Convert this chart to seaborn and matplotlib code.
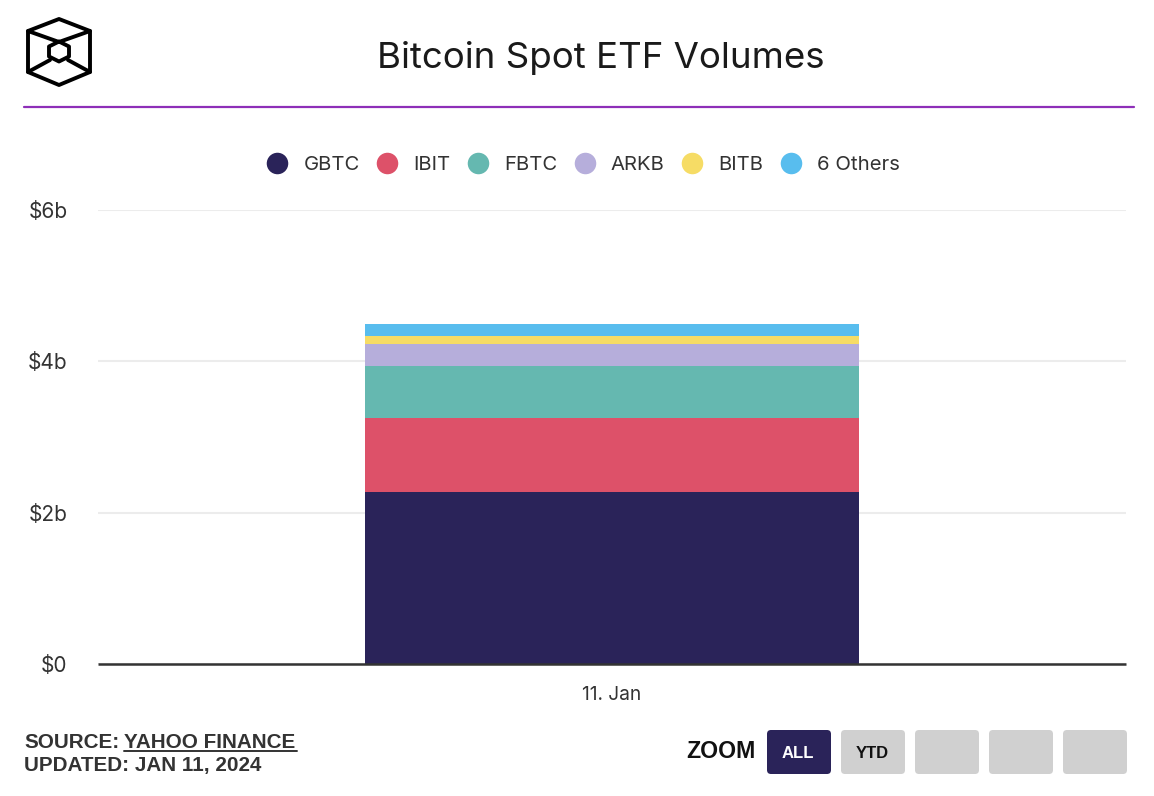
import pandas as pd
import seaborn as sns
import matplotlib.pyplot as plt
from matplotlib.lines import Line2D
from matplotlib.patches import FancyBboxPatch, Polygon

dates = ["11. Jan"]
tickers = ["GBTC", "IBIT", "FBTC", "ARKB", "BITB", "6 Others"]
volumes = [2.27, 0.98, 0.69, 0.29, 0.105, 0.155]
colors = ["#2a2359", "#dd5169", "#65b8b0", "#b6aedb", "#f6dc65", "#58bdee"]
y_ticks = [0, 2, 4, 6]
y_labels = ["$0", "$2b", "$4b", "$6b"]
zoom_labels = ["ALL", "YTD", "", "", ""]

W, H = 1154, 796


def draw_logo(ov):
    outer = [(59, 19), (90, 31), (90, 72), (59, 85), (28, 72), (28, 31)]
    inner = [(59, 41.5), (69, 46.5), (69, 56.5), (59, 61.5), (49, 56.5), (49, 46.5)]
    ov.add_patch(Polygon(outer, closed=True, fill=False, ec="black", lw=2.8, joinstyle="round"))
    ov.add_patch(Polygon(inner, closed=True, fill=False, ec="black", lw=2.8, joinstyle="round"))
    for a, b in [((28, 31), (59, 42)), ((90, 31), (59, 42)), ((28, 72), (50, 60)), ((90, 72), (68, 60))]:
        ov.plot([a[0], b[0]], [a[1], b[1]], color="black", lw=2.8)


def draw_footer(ov):
    foot = dict(fontsize=14.9, fontweight="bold", color="#333333", family="Liberation Sans", va="center")
    ov.text(24, 742, "SOURCE:", **foot)
    ov.text(124, 742, "YAHOO FINANCE", **foot)
    ov.plot([124, 297], [751, 751], color="#333333", lw=1.4)
    ov.text(24, 766, "UPDATED: JAN 11, 2024", **foot)

    ov.text(686, 752, "ZOOM", fontsize=16.7, fontweight="bold", color="#111111", family="Liberation Sans", va="center")
    for i, lab in enumerate(zoom_labels):
        x0 = 767 + i * 74
        active = i == 0
        ov.add_patch(FancyBboxPatch((x0, 730), 64, 44, boxstyle="round,pad=0,rounding_size=4",
                                    fc="#2a2359" if active else "#d0d0d0", ec="none"))
        ov.text(x0 + 31, 754, lab, fontsize=12, fontweight="bold", family="Liberation Sans",
                color="white" if active else "#111111", ha="center", va="center")


def main():
    sns.set_theme(style="white")
    plt.rcParams["font.family"] = ["Inter", "DejaVu Sans"]

    df = pd.DataFrame({"date": dates * len(tickers), "ticker": tickers, "volume": volumes})
    df["bottom"] = df["volume"].cumsum() - df["volume"]

    fig = plt.figure(figsize=(W / 100, H / 100), dpi=100)
    ax = fig.add_axes([98 / W, 1 - 664 / H, 1028 / W, (664 - 210) / H])

    for (_, row), col in zip(df.iterrows(), colors):
        sns.barplot(x=[row["date"]], y=[row["volume"]], bottom=row["bottom"], color=col,
                    width=0.48, saturation=1, linewidth=0, ax=ax, zorder=3)

    ax.set_xlim(-0.5, 0.5)
    ax.set_ylim(0, 6)
    ax.set_yticks(y_ticks, y_labels)
    ax.set_xlabel("")
    ax.set_ylabel("")
    ax.grid(axis="y", color="#ececec", lw=1.5, zorder=0)
    ax.tick_params(axis="y", length=0, pad=22, labelsize=15, labelcolor="#333333")
    ax.tick_params(axis="x", length=0, pad=16, labelsize=13.8, labelcolor="#333333")
    sns.despine(ax=ax, left=True, top=True, right=True)
    ax.spines["bottom"].set_color("#333333")
    ax.spines["bottom"].set_linewidth(1.8)
    ax.spines["bottom"].set_capstyle("butt")
    ax.spines["bottom"].set_zorder(5)

    handles = [Line2D([], [], marker="o", ls="", ms=15.5, color=c, mew=0) for c in colors]
    fig.legend(handles, tickers, ncol=6, frameon=False, loc="center", bbox_to_anchor=(583 / W, 1 - 165 / H),
               fontsize=14.6, labelcolor="#333333", handletextpad=0.74, columnspacing=0.8, handlelength=1.1, borderpad=0)

    # page furniture in pixel coordinates
    ov = fig.add_axes([0, 0, 1, 1], zorder=10)
    ov.set_xlim(0, W)
    ov.set_ylim(H, 0)
    ov.axis("off")
    ov.patch.set_alpha(0)

    ov.text(601, 58, "Bitcoin Spot ETF Volumes", fontsize=26.4, color="#1a1a1a", ha="center", va="center")
    ov.plot([24, 1134], [107, 107], color="#8e2fb8", lw=1.6)
    draw_logo(ov)
    draw_footer(ov)

    fig.savefig("out.png", dpi=100)
    plt.close(fig)


if __name__ == '__main__':
    main()
